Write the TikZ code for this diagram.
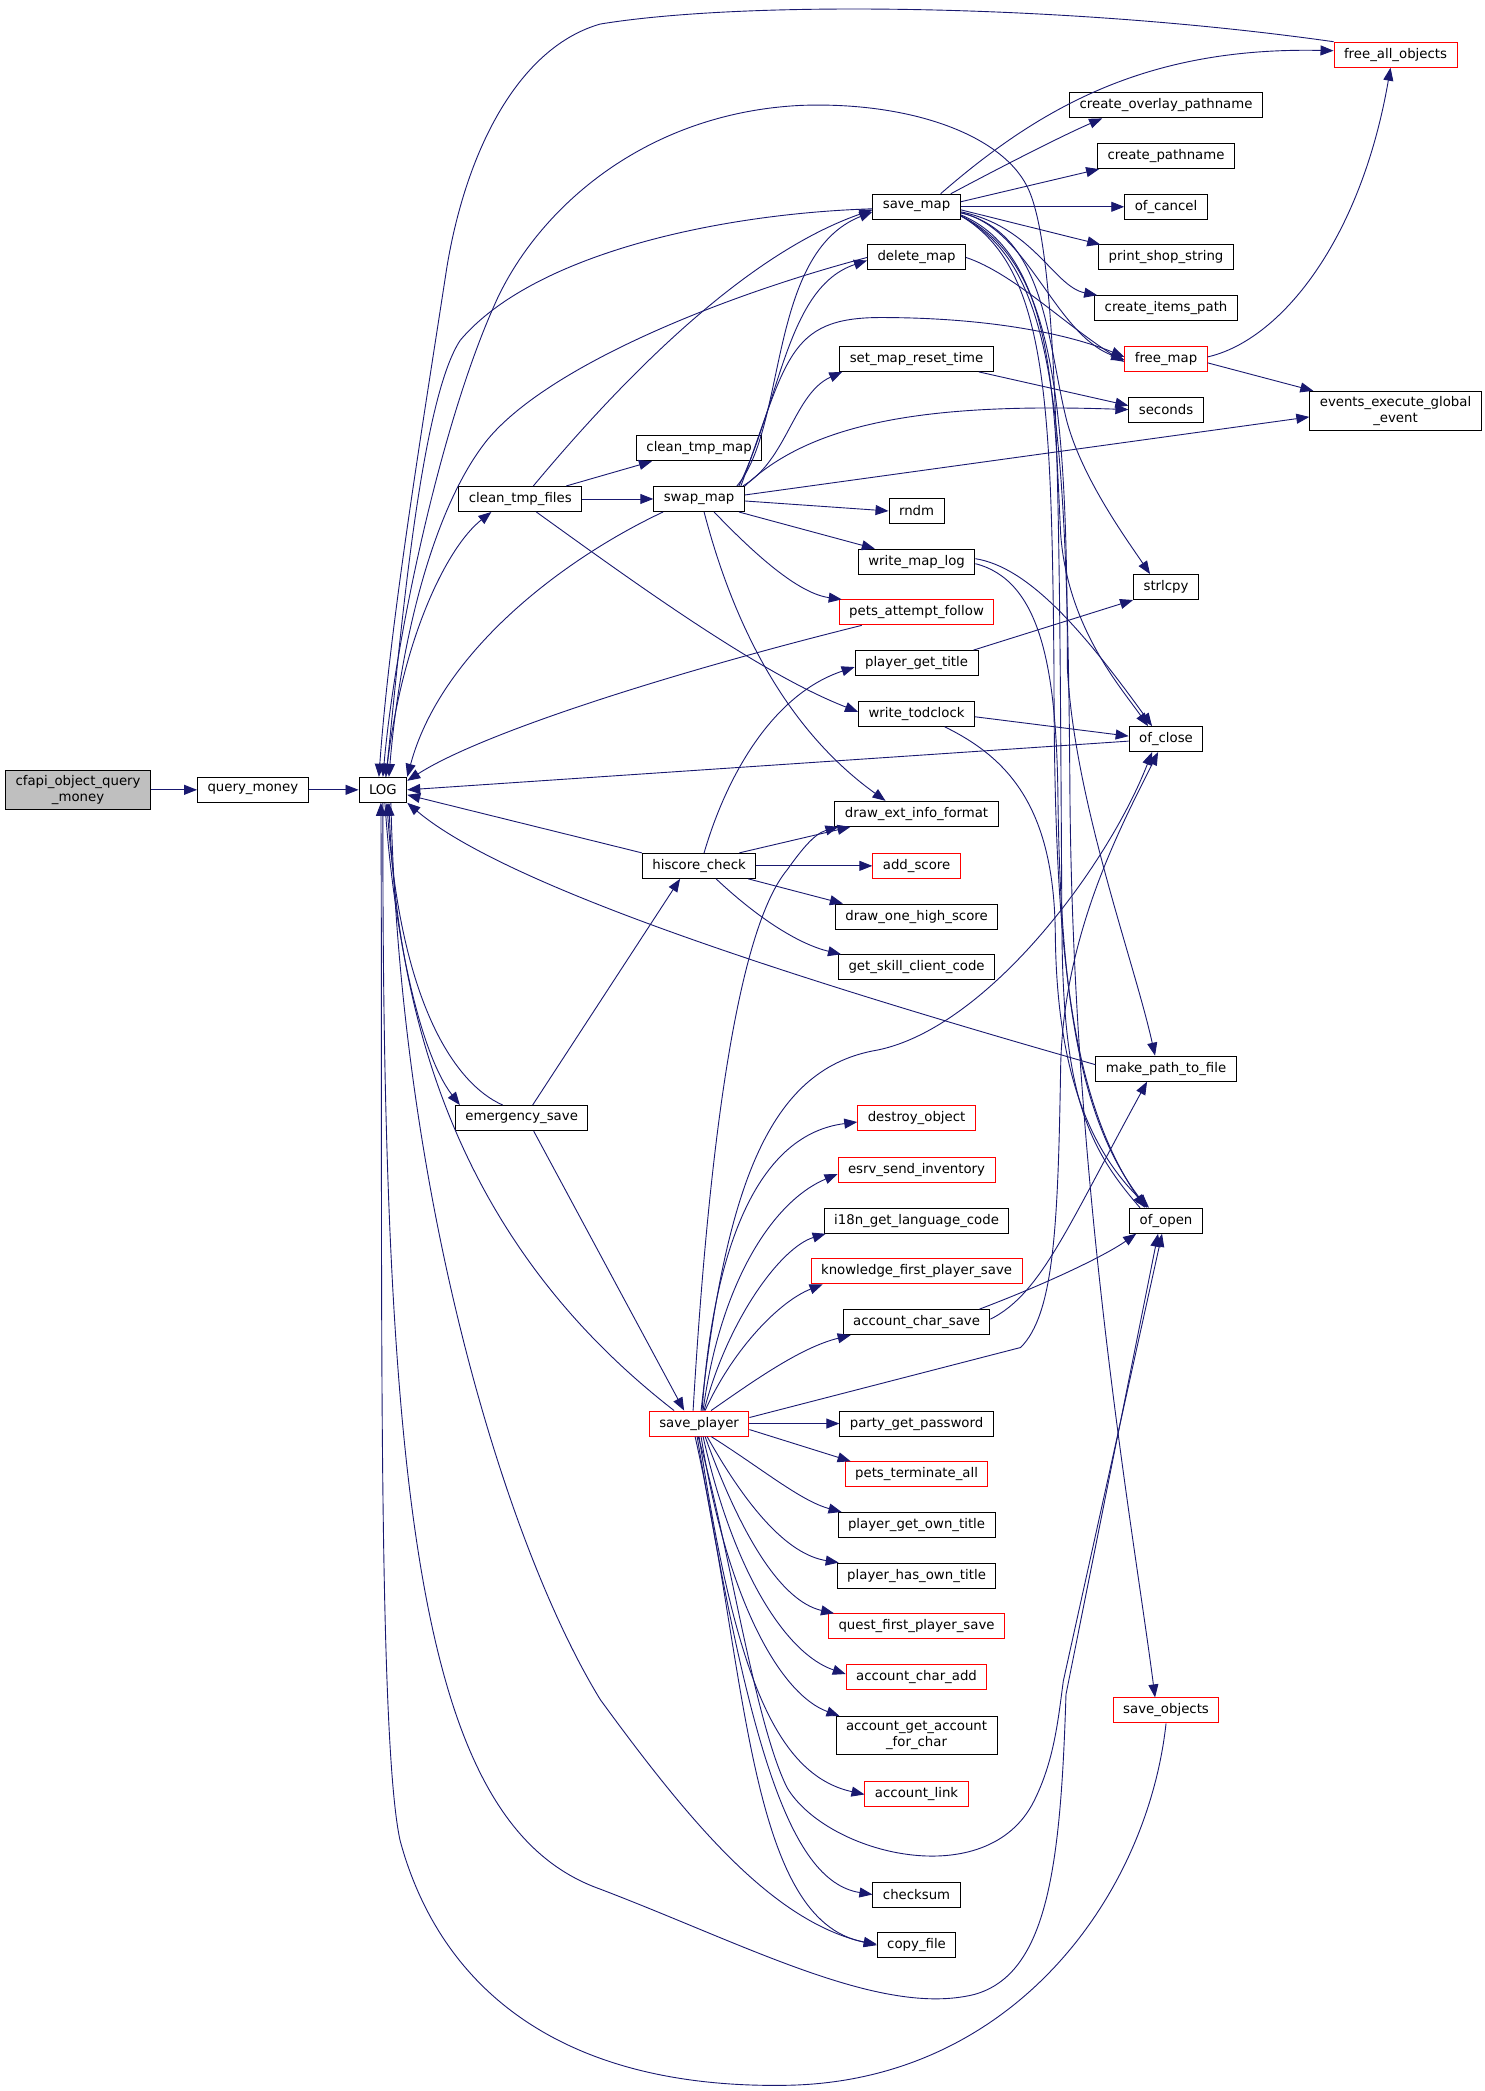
\documentclass[tikz,border=0pt]{standalone}
\usepackage{fontspec}
\setmainfont{DejaVu Sans}
\usetikzlibrary{arrows.meta}
\definecolor{edgeblue}{RGB}{25,25,112}
\definecolor{rootgray}{RGB}{191,191,191}

\begin{document}
\begin{tikzpicture}[
		x=1.3342pt, y=-1.3342pt,
		fnode/.style={
		% The shape:
		rectangle,
		% The size:
		minimum height=25pt, inner xsep=10pt, inner ysep=5pt,
		% The border:
		draw=black, line width=1pt,
		% The filling:
		fill=white,
		% Font
		font=\fontsize{13.3}{16}\selectfont, align=center
		},
		rednode/.style={fnode, draw=red},
		rootnode/.style={fnode, fill=rootgray},
		call/.style={draw=edgeblue, line width=0.9pt, -{Triangle[length=13pt,width=10pt]}}
	]
	\fill[white] (0,0) rectangle (1113,1567.3);
	\useasboundingbox (0,0) rectangle (1113,1567.3);

	\node (root)[rootnode] at (58.5,592) {cfapi\_object\_query\\\_money};
	\node (query)[fnode] at (189.5,592) {query\_money};
	\node (LOG)[fnode] at (287,592) {LOG};
	\node (ctf)[fnode] at (390,374) {clean\_tmp\_files};
	\node (esave)[fnode] at (391,838) {emergency\_save};
	\node (ctm)[fnode] at (524,336) {clean\_tmp\_map};
	\node (swapmap)[fnode] at (524,374) {swap\_map};
	\node (hiscore)[fnode] at (524,649) {hiscore\_check};
	\node (saveplayer)[rednode] at (524,1067) {save\_player};
	\node (savemap)[fnode] at (687,155) {save\_map};
	\node (deletemap)[fnode] at (687,193) {delete\_map};
	\node (smrt)[fnode] at (687,269) {set\_map\_reset\_time};
	\node (rndm)[fnode] at (687,383) {rndm};
	\node (wml)[fnode] at (687,421) {write\_map\_log};
	\node (paf)[rednode] at (687,459) {pets\_attempt\_follow};
	\node (pgt)[fnode] at (687,497) {player\_get\_title};
	\node (wtc)[fnode] at (687,535) {write\_todclock};
	\node (deif)[fnode] at (687,610) {draw\_ext\_info\_format};
	\node (addscore)[rednode] at (687,649) {add\_score};
	\node (dohs)[fnode] at (687,687) {draw\_one\_high\_score};
	\node (gscc)[fnode] at (687,725) {get\_skill\_client\_code};
	\node (destroy)[rednode] at (687,838) {destroy\_object};
	\node (esi)[rednode] at (687,877) {esrv\_send\_inventory};
	\node (i18n)[fnode] at (687,915) {i18n\_get\_language\_code};
	\node (kfps)[rednode] at (687,953) {knowledge\_first\_player\_save};
	\node (acs)[fnode] at (687,991) {account\_char\_save};
	\node (pgp)[fnode] at (687,1067) {party\_get\_password};
	\node (pta)[rednode] at (687,1105) {pets\_terminate\_all};
	\node (pgot)[fnode] at (687,1143) {player\_get\_own\_title};
	\node (phot)[fnode] at (687,1181) {player\_has\_own\_title};
	\node (qfps)[rednode] at (687,1219) {quest\_first\_player\_save};
	\node (aca)[rednode] at (687,1257) {account\_char\_add};
	\node (agaf)[fnode] at (687,1301) {account\_get\_account\\\_for\_char};
	\node (alink)[rednode] at (687,1345) {account\_link};
	\node (checksum)[fnode] at (687,1420) {checksum};
	\node (copyfile)[fnode] at (687,1458) {copy\_file};
	\node (cop)[fnode] at (874,79) {create\_overlay\_pathname};
	\node (cp)[fnode] at (874,117) {create\_pathname};
	\node (ofcancel)[fnode] at (874,155) {of\_cancel};
	\node (pss)[fnode] at (874,193) {print\_shop\_string};
	\node (cip)[fnode] at (874,231) {create\_items\_path};
	\node (freemap)[rednode] at (874,269) {free\_map};
	\node (seconds)[fnode] at (874,307) {seconds};
	\node (strlcpy)[fnode] at (874,440) {strlcpy};
	\node (ofclose)[fnode] at (874,554) {of\_close};
	\node (mptf)[fnode] at (874,801) {make\_path\_to\_file};
	\node (ofopen)[fnode] at (874,915) {of\_open};
	\node (saveobj)[rednode] at (874,1282) {save\_objects};
	\node (fao)[rednode] at (1046,41) {free\_all\_objects};
	\node (eeg)[fnode] at (1046,308) {events\_execute\_global\\\_event};

	% main chain
	\draw[call] (root) -- (query);
	\draw[call] (query) -- (LOG);

	% called by LOG
	\draw[call] ([xshift=3pt]LOG.north) .. controls (300,480) and (335,410) .. ([xshift=33pt]ctf.south west);
	\draw[call] ([xshift=2pt]LOG.south) .. controls (295,700) and (315,790) .. ([xshift=5pt]esave.north west);
	\draw[call] ([xshift=8pt]LOG.south) .. controls (300,900) and (380,1160) .. (450,1274) .. controls (520,1370) and (580,1440) .. (copyfile.west);
	\draw[call] (LOG.south) .. controls (286,1150) and (320,1370) .. (450,1416) .. controls (560,1458) and (660,1512) .. (730,1495) .. controls (785,1480) and (795,1400) .. (799,1270) -- ([xshift=-8pt]ofopen.south);

	% calling LOG
	\draw[call] (fao.north west) .. controls (800,3) and (560,0) .. (450,18) .. controls (390,35) and (350,110) .. (335,200) .. controls (315,330) and (292,470) .. ([xshift=-4pt]LOG.north);
	\draw[call] ([xshift=-26pt]ofopen.north) .. controls (815,860) and (797,820) .. (796,700) .. controls (794,400) and (795,190) .. (770,140) .. controls (750,100) and (680,76) .. (600,79) .. controls (480,85) and (400,160) .. (370,230) .. controls (330,320) and (296,480) .. (LOG.north);
	\draw[call] ([yshift=-2pt]savemap.west) .. controls (540,160) and (400,190) .. (345,255) .. controls (315,300) and (300,480) .. ([xshift=3pt]LOG.north);
	\draw[call] (deletemap.west) .. controls (540,222) and (410,275) .. (365,330) .. controls (325,380) and (300,480) .. ([xshift=6pt]LOG.north);
	\draw[call] ([xshift=-36pt]swapmap.south) .. controls (420,420) and (330,490) .. (LOG.north east);
	\draw[call] ([xshift=23pt]paf.south west) .. controls (500,505) and (360,550) .. ([yshift=-4pt]LOG.north east);
	\draw[call] ([yshift=-2pt]ofclose.west) -- (LOG.east);
	\draw[call] (hiscore.north west) -- ([yshift=-5pt]LOG.east);
	\draw[call] ([yshift=4pt]mptf.west) .. controls (600,735) and (380,665) .. (LOG.south east);
	\draw[call] ([xshift=-25pt]saveplayer.north) .. controls (380,960) and (300,820) .. ([xshift=6pt]LOG.south);
	\draw[call] ([xshift=-19pt]esave.north) .. controls (340,812) and (300,750) .. ([xshift=4pt]LOG.south);
	\draw[call] (saveobj.south) .. controls (860,1420) and (760,1560) .. (590,1563) .. controls (420,1566) and (330,1490) .. (300,1380) .. controls (282,1300) and (287,900) .. ([xshift=-2pt]LOG.south);

	% emergency_save
	\draw[call] ([xshift=11pt]esave.north) -- ([xshift=-19pt]hiscore.south);
	\draw[call] ([xshift=12pt]esave.south) -- ([xshift=-15pt]saveplayer.north);

	% clean_tmp_files
	\draw[call] ([xshift=-16pt]ctf.north east) -- ([xshift=16pt]ctm.south west);
	\draw[call] (ctf.east) -- (swapmap.west);
	\draw[call] ([xshift=13pt]ctf.north) .. controls (470,280) and (560,190) .. ([yshift=-3pt]savemap.west);
	\draw[call] ([xshift=16pt]ctf.south) .. controls (480,440) and (570,505) .. ([yshift=2pt]wtc.west);

	% swap_map
	\draw[call] ([xshift=-8pt]swapmap.north east) .. controls (590,320) and (575,190) .. ([yshift=-5pt]savemap.west);
	\draw[call] ([xshift=-6pt]swapmap.north east) .. controls (585,300) and (590,215) .. ([yshift=-3pt]deletemap.west);
	\draw[call] ([xshift=-4pt]swapmap.north east) .. controls (590,270) and (590,238) .. (660,238) .. controls (740,238) and (800,250) .. ([yshift=2pt]freemap.west);
	\draw[call] ([xshift=-2pt]swapmap.north east) .. controls (590,345) and (595,295) .. ([xshift=3pt]smrt.south west);
	\draw[call] (swapmap.north east) .. controls (610,315) and (700,302) .. (seconds.west);
	\draw[call] ([yshift=4pt]swapmap.east) -- ([yshift=-6pt]eeg.west);
	\draw[call] ([yshift=-2pt]swapmap.east) -- (rndm.west);
	\draw[call] ([xshift=-6pt]swapmap.south east) -- ([xshift=17pt]wml.north west);
	\draw[call] ([xshift=15pt]swapmap.south) .. controls (570,420) and (600,445) .. ([xshift=3pt]paf.north west);
	\draw[call] ([xshift=5pt]swapmap.south) .. controls (545,450) and (580,540) .. ([xshift=-31pt]deif.north);

	% save_map
	\draw[call] ([xshift=24pt]savemap.north) .. controls (780,80) and (860,35) .. ([yshift=4pt]fao.west);
	\draw[call] ([xshift=-10pt]savemap.north east) .. controls (760,120) and (800,100) .. ([xshift=33pt]cop.south west);
	\draw[call] ([yshift=5pt]savemap.east) -- ([xshift=2pt]cp.south west);
	\draw[call] (savemap.east) -- (ofcancel.west);
	\draw[call] ([yshift=-3pt]savemap.east) -- ([xshift=2pt]pss.north west);
	\draw[call] ([yshift=-5pt]savemap.east) .. controls (775,170) and (790,215) .. ([xshift=3pt]cip.north west);
	\draw[call] ([yshift=-6pt]savemap.east) .. controls (770,170) and (790,250) .. ([yshift=-1pt]freemap.west);
	\draw[call] ([yshift=-6pt]savemap.east) .. controls (785,175) and (785,260) .. (800,317) .. controls (812,360) and (845,405) .. ([xshift=-16pt]strlcpy.north);
	\draw[call] ([yshift=-8pt]savemap.east) .. controls (790,190) and (790,300) .. (795,400) .. controls (800,470) and (840,515) .. ([xshift=-18pt]ofclose.north);
	\draw[call] ([yshift=-9pt]savemap.east) .. controls (790,195) and (800,300) .. (800,500) .. controls (805,600) and (850,720) .. ([xshift=-11pt]mptf.north);
	\draw[call] ([yshift=-9pt]savemap.east) .. controls (785,200) and (788,300) .. (790,500) .. controls (790,700) and (800,820) .. ([xshift=-21pt]ofopen.north);
	\draw[call] ([yshift=-9pt]savemap.east) .. controls (790,200) and (800,300) .. (802,600) .. controls (805,900) and (850,1150) .. ([xshift=-11pt]saveobj.north);

	% other callers on the right
	\draw[call] (deletemap.east) .. controls (760,205) and (800,245) .. ([yshift=-3pt]freemap.west);
	\draw[call] ([xshift=-15pt]smrt.south east) -- ([yshift=4pt]seconds.west);
	\draw[call] ([yshift=2pt]freemap.east) .. controls (960,255) and (1020,180) .. ([xshift=-5pt]fao.south);
	\draw[call] ([yshift=-4pt]freemap.east) -- ([xshift=4pt]eeg.north west);
	\draw[call] ([yshift=3pt]wml.east) .. controls (770,425) and (810,470) .. ([xshift=-14pt]ofclose.north);
	\draw[call] ([yshift=-2pt]wml.east) .. controls (780,435) and (792,500) .. (793,600) .. controls (795,750) and (810,840) .. ([xshift=-19pt]ofopen.north);
	\draw[call] ([xshift=-5pt]pgt.north east) -- (strlcpy.south west);
	\draw[call] ([yshift=-3pt]wtc.east) -- ([yshift=3pt]ofclose.west);
	\draw[call] ([xshift=28pt]wtc.south) .. controls (760,570) and (790,610) .. (791,700) .. controls (792,800) and (815,860) .. ([xshift=-17pt]ofopen.north);
	\draw[call] ([yshift=3pt]acs.east) .. controls (780,970) and (800,920) .. ([xshift=-19pt]mptf.south);
	\draw[call] ([xshift=-11pt]acs.north east) .. controls (790,960) and (830,940) .. ([xshift=7pt]ofopen.south west);

	% hiscore_check
	\draw[call] ([xshift=5pt]hiscore.north) .. controls (545,580) and (580,520) .. ([yshift=-4pt]pgt.west);
	\draw[call] ([xshift=-17pt]hiscore.north east) -- ([xshift=16pt]deif.south west);
	\draw[call] (hiscore.east) -- (addscore.west);
	\draw[call] ([xshift=-8pt]hiscore.south east) -- ([xshift=8pt]dohs.north west);
	\draw[call] ([xshift=17pt]hiscore.south) .. controls (570,690) and (600,708) .. ([xshift=3pt]gscc.north west);

	% save_player
	\draw[call] ([xshift=-6pt]saveplayer.north) .. controls (530,880) and (550,700) .. (590,652) .. controls (600,638) and (610,625) .. ([xshift=4pt]deif.south west);
	\draw[call] ([xshift=2pt]saveplayer.north) .. controls (545,880) and (580,800) .. (658,787) .. controls (740,770) and (830,650) .. ([xshift=-14pt]ofclose.south);
	\draw[call] ([xshift=3pt]saveplayer.north) .. controls (535,930) and (570,850) .. ([yshift=-4pt]destroy.west);
	\draw[call] ([xshift=4pt]saveplayer.north) .. controls (540,960) and (580,900) .. ([yshift=-4pt]esi.west);
	\draw[call] ([xshift=5pt]saveplayer.north) .. controls (545,990) and (585,935) .. ([xshift=2pt]i18n.south west);
	\draw[call] ([xshift=6pt]saveplayer.north) .. controls (550,1010) and (585,975) .. ([xshift=12pt]kfps.south west);
	\draw[call] ([xshift=12pt]saveplayer.north) .. controls (565,1035) and (600,1010) .. ([xshift=8pt]acs.south west);
	\draw[call] ([yshift=6pt]saveplayer.east) -- (765,1010) .. controls (790,985) and (793,920) .. (795,800) .. controls (797,700) and (840,620) .. ([xshift=-8pt]ofclose.south);
	\draw[call] (saveplayer.east) -- (pgp.west);
	\draw[call] ([yshift=-6pt]saveplayer.east) -- ([xshift=6pt]pta.north west);
	\draw[call] ([xshift=12pt]saveplayer.south) .. controls (570,1100) and (600,1125) .. ([xshift=4pt]pgot.north west);
	\draw[call] ([xshift=8pt]saveplayer.south) .. controls (560,1130) and (590,1165) .. ([xshift=2pt]phot.north west);
	\draw[call] ([xshift=6pt]saveplayer.south) .. controls (555,1150) and (585,1200) .. ([xshift=6pt]qfps.north west);
	\draw[call] ([xshift=4pt]saveplayer.south) .. controls (550,1180) and (590,1240) .. ([yshift=3pt]aca.west);
	\draw[call] ([xshift=2pt]saveplayer.south) .. controls (545,1200) and (585,1270) .. ([xshift=4pt]agaf.north west);
	\draw[call] (saveplayer.south) .. controls (550,1250) and (580,1330) .. (alink.west);
	\draw[call] ([xshift=-2pt]saveplayer.south) .. controls (560,1300) and (590,1410) .. (checksum.west);
	\draw[call] ([xshift=-4pt]saveplayer.south) .. controls (560,1250) and (560,1440) .. ([yshift=1pt]copyfile.west);
	\draw[call] ([xshift=-1pt]saveplayer.south) .. controls (545,1150) and (565,1290) .. (590,1340) .. controls (620,1390) and (740,1420) .. (775,1350) .. controls (790,1320) and (793,1290) .. (797,1260) -- ([xshift=-4pt]ofopen.south);
\end{tikzpicture}
\end{document}
